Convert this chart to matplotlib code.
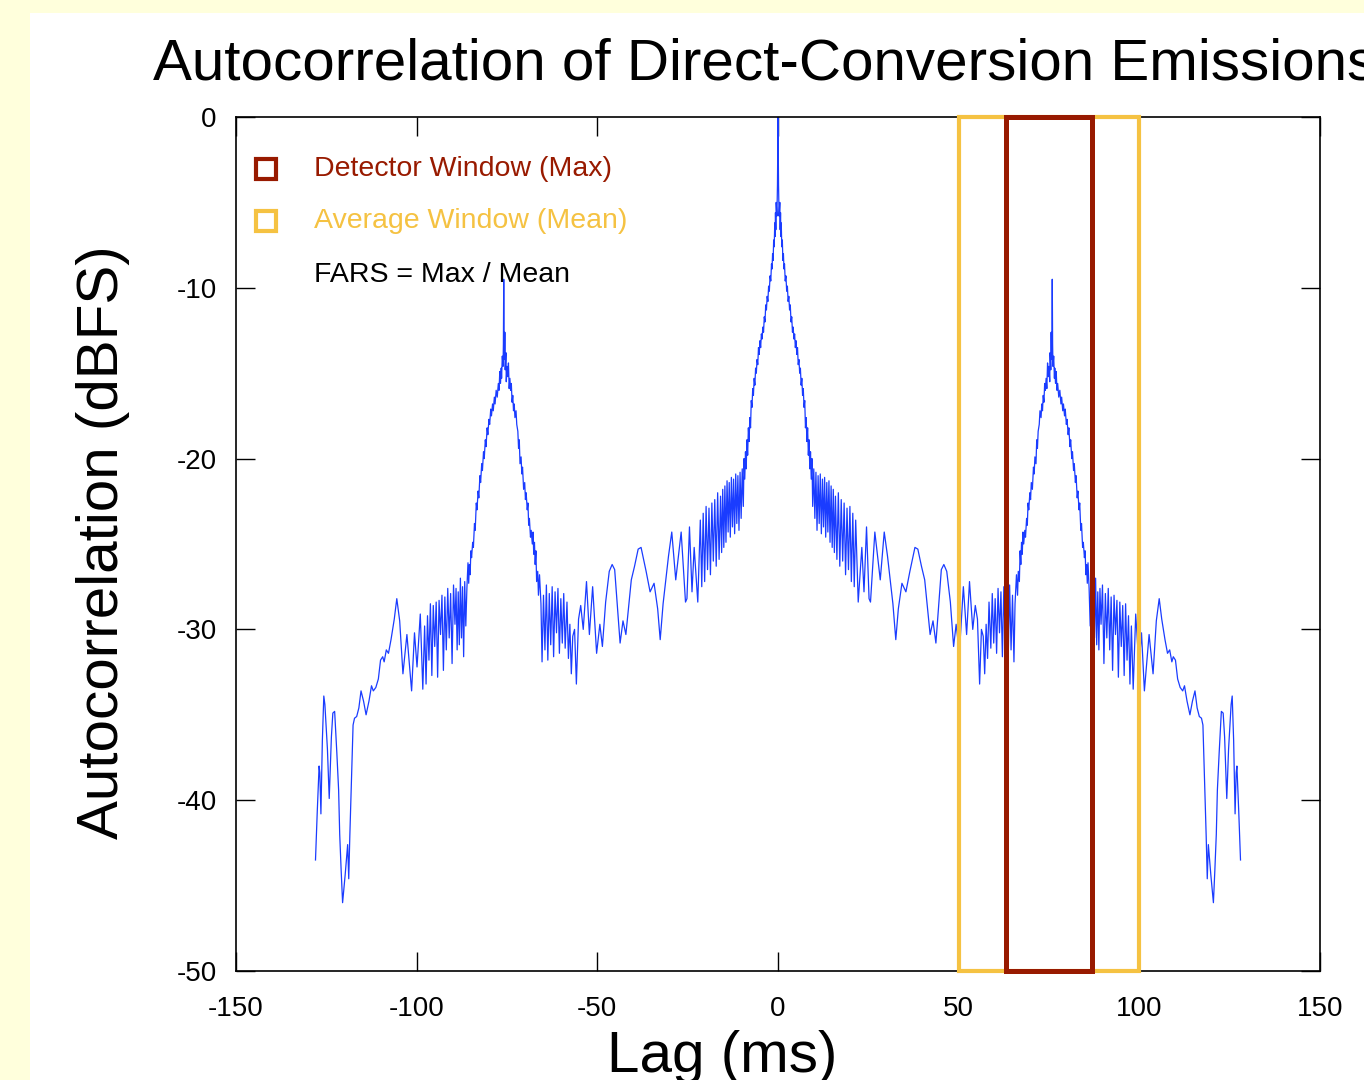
import numpy as np
import matplotlib
matplotlib.use("Agg")
import matplotlib.pyplot as plt
from matplotlib.patches import Rectangle

plt.rcParams['font.family'] = ['Liberation Sans', 'DejaVu Sans']
plt.rcParams['axes.unicode_minus'] = False

# right half of the autocorrelation (lag >= 0); it is symmetric
lag_half = [0.0, 0.15, 0.3, 0.5, 0.6, 0.7, 0.8, 0.9, 1.05, 1.2,
            1.35, 1.5, 1.65, 1.8, 2.0, 2.2, 2.4, 2.6, 2.8, 3.0,
            3.2, 3.4, 3.6, 3.8, 4.0, 4.2, 4.4, 4.6, 4.8, 5.0,
            5.2, 5.4, 5.6, 5.8, 6.0, 6.2, 6.4, 6.6, 6.8, 7.0,
            7.2, 7.4, 7.6, 7.8, 8.0, 8.2, 8.4, 8.6, 8.8, 9.0,
            9.2, 9.4, 9.6, 9.9, 10.2, 10.5, 10.8, 11.1, 11.4, 11.7,
            12.0, 12.3, 12.6, 12.9, 13.2, 13.5, 13.8, 14.1, 14.4, 14.7,
            15.0, 15.3, 15.6, 15.9, 16.3, 16.7, 17.1, 17.5, 17.9, 18.3,
            18.7, 19.1, 19.5, 19.9, 20.3, 20.7, 21.1, 21.5, 22.2, 23.2,
            23.8, 24.5, 25.2, 25.6, 26.8, 28.3, 29.4, 30.3, 31.8, 32.6,
            33.3, 34.3, 35.4, 36.5, 37.9, 38.7, 39.7, 40.6, 42.1, 42.9,
            43.7, 45.2, 45.9, 46.7, 47.7, 48.6, 49.3, 50.2, 51.3, 52.2,
            53.0, 53.9, 54.6, 55.2, 55.8, 56.3, 56.8, 57.2, 57.6, 58.0,
            58.4, 58.9, 59.3, 59.7, 60.1, 60.5, 60.9, 61.3, 61.7, 62.1,
            62.5, 62.9, 63.3, 63.7, 64.1, 64.5, 64.9, 65.3, 65.6, 66.0,
            66.3, 66.5, 66.8, 67.0, 67.2, 67.4, 67.6, 67.8, 68.0, 68.3,
            68.5, 68.8, 69.0, 69.2, 69.4, 69.7, 69.9, 70.1, 70.4, 70.7,
            70.9, 71.1, 71.4, 71.6, 71.8, 72.0, 72.3, 72.5, 72.8, 73.0,
            73.2, 73.4, 73.6, 73.8, 74.0, 74.2, 74.4, 74.6, 74.8, 75.0,
            75.2, 75.3, 75.5, 75.6, 75.7, 75.8, 75.9, 76.0, 76.1, 76.3,
            76.5, 76.6, 76.8, 77.0, 77.2, 77.4, 77.7, 78.0, 78.3, 78.5,
            78.8, 79.0, 79.3, 79.5, 79.8, 80.0, 80.3, 80.5, 80.8, 81.0,
            81.3, 81.5, 81.8, 82.0, 82.3, 82.5, 82.8, 83.0, 83.3, 83.5,
            83.8, 84.0, 84.3, 84.5, 84.8, 85.0, 85.2, 85.4, 85.6, 85.8,
            86.1, 86.4, 86.7, 87.0, 87.3, 87.6, 87.9, 88.2, 88.5, 88.8,
            89.1, 89.4, 89.8, 90.2, 90.6, 91.0, 91.4, 91.8, 92.2, 92.6,
            93.0, 93.4, 93.8, 94.2, 94.6, 95.0, 95.4, 95.8, 96.2, 96.6,
            97.0, 97.4, 97.8, 98.3, 99.0, 99.9, 100.6, 101.4, 102.7, 103.8,
            104.7, 105.5, 106.2, 107.1, 107.8, 108.4, 109.0, 109.4, 110.0, 110.6,
            111.3, 112.0, 112.5, 113.2, 114.0, 114.7, 115.4, 116.0, 116.6, 117.2,
            117.6, 118.0, 118.5, 118.8, 119.1, 119.4, 119.8, 120.5, 120.9, 121.3,
            121.6, 122.1, 122.7, 123.2, 123.6, 124.2, 124.7, 125.4, 125.7, 126.1,
            126.5, 126.8, 127.0, 127.5, 128.0]
db_half = [0.0, -4.0, -5.8, -5.0, -6.6, -5.6, -7.0, -6.2, -7.6, -7.2,
           -8.4, -8.0, -8.9, -8.6, -9.6, -9.3, -10.2, -9.9, -10.8, -10.5,
           -11.3, -11.0, -12.0, -11.7, -12.6, -12.3, -13.0, -12.7, -13.5, -13.1,
           -13.9, -13.5, -14.5, -14.2, -15.0, -14.7, -15.7, -15.3, -16.3, -15.9,
           -17.0, -16.6, -18.2, -17.6, -19.0, -18.2, -19.8, -18.9, -20.6, -19.6,
           -21.2, -20.0, -22.8, -20.6, -23.5, -20.8, -24.2, -21.0, -23.8, -20.9,
           -24.4, -21.2, -24.0, -21.1, -24.6, -21.4, -24.3, -21.3, -24.9, -21.6,
           -25.2, -21.8, -25.5, -22.2, -25.9, -22.0, -26.3, -22.4, -26.0, -22.6,
           -26.8, -22.9, -26.5, -22.8, -27.2, -23.2, -27.5, -23.6, -28.4, -25.2,
           -27.8, -24.0, -28.2, -28.4, -24.3, -27.1, -24.3, -25.7, -28.5, -30.6,
           -28.8, -27.3, -27.8, -26.6, -25.2, -25.3, -26.3, -27.1, -30.3, -29.5,
           -30.8, -26.5, -26.2, -26.6, -28.4, -31.0, -29.7, -31.4, -27.5, -30.3,
           -27.2, -30.0, -28.6, -29.4, -33.2, -30.0, -30.4, -32.6, -29.7, -31.7,
           -28.4, -31.1, -27.9, -30.8, -28.2, -31.4, -27.6, -30.2, -27.8, -31.6,
           -27.5, -30.9, -27.9, -31.8, -27.4, -31.2, -28.0, -31.9, -28.5, -26.8,
           -28.0, -26.6, -27.2, -25.4, -26.2, -24.9, -25.6, -24.3, -25.0, -24.2,
           -24.6, -23.5, -23.9, -22.6, -23.0, -22.0, -22.4, -21.4, -21.8, -20.5,
           -20.9, -19.9, -20.3, -18.9, -19.4, -18.4, -18.0, -17.2, -17.6, -16.8,
           -17.2, -16.3, -16.7, -15.6, -16.0, -15.3, -15.9, -14.4, -15.2, -14.6,
           -15.5, -13.8, -14.8, -12.6, -14.2, -13.4, -9.5, -13.3, -14.6, -14.0,
           -15.3, -14.7, -15.6, -14.9, -16.0, -15.6, -16.4, -16.0, -16.8, -16.4,
           -17.2, -16.8, -17.5, -17.1, -18.0, -17.7, -18.6, -18.2, -19.3, -18.9,
           -20.0, -19.6, -20.7, -20.3, -21.4, -21.0, -22.3, -21.9, -23.0, -22.6,
           -24.2, -23.8, -25.2, -24.9, -25.8, -25.4, -26.8, -26.2, -27.3, -26.1,
           -27.6, -29.8, -27.2, -31.6, -27.5, -30.5, -27.0, -30.9, -27.8, -31.2,
           -27.6, -29.7, -27.4, -32.0, -27.9, -30.5, -27.6, -31.2, -28.1, -32.4,
           -28.0, -30.3, -28.3, -32.8, -28.4, -31.0, -28.6, -32.7, -28.5, -31.8,
           -29.2, -33.2, -29.8, -33.5, -29.1, -32.2, -30.2, -33.6, -30.3, -32.6,
           -29.5, -28.2, -29.4, -30.6, -31.4, -31.2, -31.9, -31.6, -31.8, -32.9,
           -33.4, -33.6, -33.3, -34.2, -35.0, -34.2, -33.6, -34.6, -35.1, -35.2,
           -35.6, -38.5, -42.1, -44.6, -42.6, -43.4, -44.4, -46.0, -44.1, -42.0,
           -39.4, -37.2, -34.8, -34.9, -36.3, -39.9, -37.0, -34.4, -33.9, -36.5,
           -40.8, -38.4, -38.0, -40.6, -43.5]

avg_window = [50, 100]
det_window = [63, 87]
legend_labels = ['Detector Window (Max)', 'Average Window (Mean)', 'FARS = Max / Mean']

lag_half = np.array(lag_half)
db_half = np.array(db_half)
lag = np.concatenate([-lag_half[:0:-1], lag_half])
db = np.concatenate([db_half[:0:-1], db_half])

red = '#981a00'
yel = '#f5c242'
blue = '#1a3cff'

fig = plt.figure(figsize=(13.64, 10.8), dpi=100)
fig.patch.set_facecolor('#ffffdc')
fig.patches.append(Rectangle((30 / 1364, 0), 1, 1 - 13 / 1080, transform=fig.transFigure,
                             facecolor='white', edgecolor='none', zorder=-10))

ax = fig.add_axes([236 / 1364, 1 - 971 / 1080, 1084 / 1364, 854 / 1080])
ax.set_zorder(1)
ax.plot(lag, db, color=blue, lw=0.9, zorder=2)

ax.add_patch(Rectangle((avg_window[0], -50), avg_window[1] - avg_window[0], 50,
                       fill=False, edgecolor=yel, lw=3, clip_on=False, zorder=3))
ax.add_patch(Rectangle((det_window[0], -50), det_window[1] - det_window[0], 50,
                       fill=False, edgecolor=red, lw=3.6, clip_on=False, zorder=4))

ax.set_xlim(-150, 150)
ax.set_ylim(-50, 0)
ax.set_xticks([-150, -100, -50, 0, 50, 100, 150])
ax.set_yticks([-50, -40, -30, -20, -10, 0])
ax.tick_params(direction='in', length=14, width=1, top=True, right=True, labelsize=20)
ax.tick_params(axis='x', pad=18)
ax.tick_params(axis='y', pad=14)
for s in ax.spines.values():
    s.set_linewidth(1.2)

# legend drawn by hand
leg_y = [0.939, 0.878, 0.815]
ax.plot([0.0277], [leg_y[0]], marker='s', ms=14, mfc='none', mec=red, mew=3,
        transform=ax.transAxes, clip_on=False)
ax.plot([0.0277], [leg_y[1]], marker='s', ms=14, mfc='none', mec=yel, mew=3,
        transform=ax.transAxes, clip_on=False)
for lbl, yy, c in zip(legend_labels, leg_y, [red, yel, 'black']):
    ax.text(0.072, yy, lbl, color=c, fontsize=20.5, va='center', ha='left',
            transform=ax.transAxes)

fig.text(153 / 1364, 1 - 80 / 1080, 'Autocorrelation of Direct-Conversion Emissions',
         fontsize=42, ha='left', va='baseline')
fig.text(103 / 1364, 1 - 542 / 1080, 'Autocorrelation (dBFS)', fontsize=42,
         rotation=90, ha='center', va='center')
fig.text(722 / 1364, 1 - 1072 / 1080, 'Lag (ms)', fontsize=42, ha='center', va='baseline')

fig.savefig('out.png', dpi=100, facecolor=fig.get_facecolor())
